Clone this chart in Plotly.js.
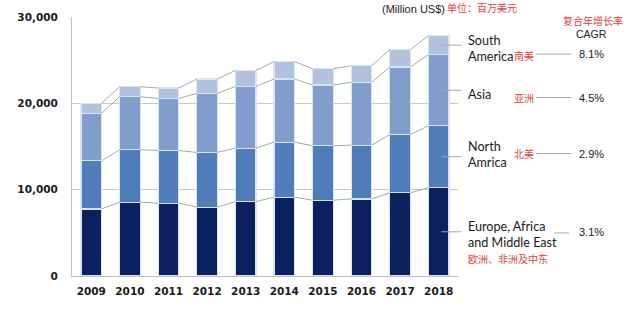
<!DOCTYPE html>
<html>
<head>
<meta charset="utf-8">
<script src="https://cdn.plot.ly/plotly-3.0.1.min.js"></script>
<style>html,body{margin:0;padding:0;background:#fff}#chart{width:640px;height:324px}</style>
</head>
<body>
<div id="chart"></div>
<script>
// ---- data ----
const years = ['2009','2010','2011','2012','2013','2014','2015','2016','2017','2018'];
const eame  = [7770, 8550, 8430, 7970, 8620, 9130, 8780, 8930, 9630, 10240];
const northAmerica = [5570, 6070, 6110, 6340, 6190, 6380, 6300, 6230, 6760, 7160];
const asia  = [5490, 6150, 6030, 6840, 7150, 7310, 7040, 7270, 7820, 8240];
const southAmerica = [1170, 1160, 1200, 1660, 1860, 2010, 1890, 1930, 2010, 2200];
const seriesNames = ['Europe, Africa and Middle East', 'North Amrica', 'Asia', 'South America'];
const cagr = ['3.1%', '2.9%', '4.5%', '8.1%'];
const yTicks = [0, 10000, 20000, 30000];
const yTickText = ['0', '10,000', '20,000', '30,000'];

// ---- style ----
const colors = ['#0b215f', '#4f7dba', '#809dcc', '#b3c2de'];
const barW = 0.53;
const L = 71.5, R = 458.5, T = 17.3, B = 276;
const px = v => (v - L) / (R - L);
const py = v => (B - v) / (B - T);
const red = '#e2403a';

const idx = years.map((_, i) => i);
const series = [eame, northAmerica, asia, southAmerica];

const traces = series.map((s, k) => ({
  type: 'bar', x: idx, y: s, name: seriesNames[k], width: barW,
  marker: {color: colors[k], line: {color: '#dbe5f2', width: 1.2}},
  hoverinfo: 'skip', showlegend: false
}));

// cumulative levels
const cum = [];
series.forEach((s, k) => {
  cum.push(s.map((v, i) => v + (k ? cum[k-1][i] : 0)));
});

// connector lines
const cx = [], cy = [];
cum.forEach(level => {
  for (let i = 0; i < years.length - 1; i++) {
    cx.push(i + barW/2, i + 1 - barW/2, null);
    cy.push(level[i], level[i+1], null);
  }
});
traces.push({type: 'scatter', mode: 'lines', x: cx, y: cy,
  line: {color: '#a8a8a8', width: 1}, hoverinfo: 'skip', showlegend: false});

// leader lines from last bar segments
const last = years.length - 1;
const shapes = series.map((s, k) => {
  const mid = cum[k][last] - s[last] / 2;
  return {type: 'line', xref: 'paper', yref: 'y', x0: px(442), x1: px(462), y0: mid, y1: mid,
    line: {color: '#a8a8a8', width: 1}};
});
// lines to CAGR
[[537, 572, 54.3], [537, 572, 97.7], [537, 572, 153.7], [555, 570, 233]].forEach(a => {
  shapes.push({type: 'line', xref: 'paper', yref: 'paper', x0: px(a[0]), x1: px(a[1]), y0: py(a[2]), y1: py(a[2]),
    line: {color: '#a8a8a8', width: 1}});
});

const labFont = {family: 'Lato, "Open Sans", sans-serif', size: 12.6, color: '#1a1a1a'};
const cnFont = {family: '"Noto Sans CJK SC", sans-serif', size: 10, color: red};
const numFont = {family: '"Liberation Sans", Arial, sans-serif', size: 11, color: '#222'};
function ann(text, x, y, font, xanchor) {
  return {text, xref: 'paper', yref: 'paper', x: px(x), y: py(y), xanchor: xanchor || 'left', yanchor: 'middle',
    showarrow: false, font, align: 'left', borderpad: 0};
}
const annotations = [
  ann('(Million US$)', 446, 9.5, numFont, 'right'),
  ann('单位：百万美元', 446, 8, cnFont, 'left'),
  ann('复合年增长率', 594, 21, cnFont, 'center'),
  ann('CAGR', 592, 34, {family: numFont.family, size: 10.5, color: '#222'}, 'center'),
  ann(cagr[3], 592, 54, numFont, 'center'),
  ann(cagr[2], 592, 98, numFont, 'center'),
  ann(cagr[1], 592, 154, numFont, 'center'),
  ann(cagr[0], 592, 232, numFont, 'center'),
  ann('South<br>America', 468, 49, labFont),
  ann('南美', 514, 56, cnFont),
  ann('Asia', 468, 95, labFont),
  ann('亚洲', 514, 97.7, cnFont),
  ann('North<br>Amrica', 468, 155, labFont),
  ann('北美', 514, 153.5, cnFont),
  ann('Europe, Africa<br>and Middle East', 468, 235, labFont),
  ann('欧洲、非洲及中东', 468, 258.7, cnFont)
];

const tickFont = {family: '"DejaVu Sans", Verdana, sans-serif', size: 10.5, color: '#1a1a1a', weight: 'bold'};

const layout = {
  width: 640, height: 324,
  margin: {l: L, r: 640 - R, t: T, b: 324 - B, pad: 0},
  paper_bgcolor: '#fff', plot_bgcolor: '#fff',
  barmode: 'stack',
  xaxis: {range: [-0.5, years.length - 0.5], tickvals: idx, ticktext: years, showgrid: false, zeroline: false,
    showline: true, linecolor: '#bfbfbf', linewidth: 1, ticks: '', tickfont: tickFont, ticklabelstandoff: 5, fixedrange: true},
  yaxis: {range: [0, 30000], tickvals: yTicks, ticktext: yTickText, showgrid: true, gridcolor: '#c8c8c8', gridwidth: 1,
    zeroline: false, showline: true, linecolor: '#bfbfbf', linewidth: 1, ticks: '', tickfont: tickFont,
    ticklabelstandoff: 11, fixedrange: true},
  shapes, annotations, showlegend: false
};

Plotly.newPlot('chart', traces, layout, {displayModeBar: false, staticPlot: true});
</script>
</body>
</html>
